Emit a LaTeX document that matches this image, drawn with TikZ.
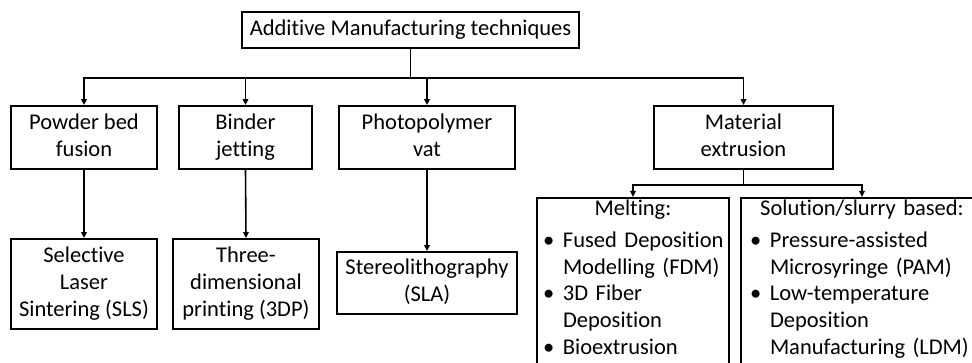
\documentclass[tikz,border=0pt]{standalone}
\usepackage{fontspec}
\setmainfont{Carlito}[Ligatures=NoCommon]
\usepackage{tikz}
\usetikzlibrary{arrows.meta, positioning}

\newcommand{\bitem}[1]{\makebox[20pt][l]{\textbullet}\mbox{#1}}
\newcommand{\bcont}[1]{\hspace*{20pt}\mbox{#1}}

\begin{document}
\begin{tikzpicture}[x=1pt, y=-1pt,
  box/.style={draw, rectangle, line width=1.8pt, align=center, inner sep=0pt,
    text depth=5.5pt, font=\fontsize{22.5}{27}\selectfont},
  listbox/.style={draw, rectangle, line width=1.8pt, align=left, anchor=north,
    inner ysep=2pt, text depth=150pt, font=\fontsize{22.5}{26.8}\selectfont},
  arr/.style={line width=1.6pt, -{Triangle[length=6pt, width=5.5pt]}}]
\useasboundingbox (0,0) rectangle (972,363);

\node (amt) [box, minimum width=337, minimum height=36] at (410.5,30) {Additive Manufacturing techniques};

\node (pbf) [box, minimum width=146, minimum height=63] at (84,137.5) {Powder bed\\fusion};
\node (bj) [box, minimum width=133, minimum height=63] at (245.5,137.5) {Binder\\jetting};
\node (pv) [box, minimum width=176, minimum height=63] at (427,137.5) {Photopolymer\\vat};
\node (me) [box, minimum width=179, minimum height=63] at (743.5,137.5) {Material\\extrusion};

\node (sls) [box, minimum width=146, minimum height=90] at (84,284) {Selective\\Laser\\Sintering (SLS)};
\node (tdp) [box, minimum width=146, minimum height=90] at (246,284) {Three-\\dimensional\\printing (3DP)};
\node (sla) [box, minimum width=180, minimum height=62] at (427,283) {Stereolithography\\(SLA)};

\node (melt) [listbox, text width=180pt, inner xsep=6pt] at (633,197)
  {\makebox[\linewidth][c]{Melting:}\\[5pt]
   \bitem{Fused Deposition}\\
   \bcont{Modelling (FDM)}\\
   \bitem{3D Fiber}\\
   \bcont{Deposition}\\
   \bitem{Bioextrusion}};
\node (sol) [listbox, text width=224pt, inner xsep=9pt] at (862,197)
  {\makebox[\linewidth][c]{Solution/slurry based:}\\[5pt]
   \bitem{Pressure-assisted}\\
   \bcont{Microsyringe (PAM)}\\
   \bitem{Low-temperature}\\
   \bcont{Deposition}\\
   \bcont{Manufacturing (LDM)}};

% tree from the top box
\coordinate (split) at ([yshift=-29pt]amt.south);
\draw[arr] (amt.south) -- (split) -| (pbf.north);
\draw[arr] (amt.south) -- (split) -| (bj.north);
\draw[arr] (amt.south) -- (split) -| (pv.north);
\draw[arr] (amt.south) -- (split) -| (me.north);

\draw[arr] (pbf.south) -- (sls.north);
\draw[arr] (bj.south) -- (tdp.north);
\draw[arr] (pv.south) -- (sla.north);

% extrusion split
\coordinate (split2) at ([yshift=-15pt]me.south);
\draw[arr] (me.south) -- (split2) -| (melt.north);
\draw[arr] (me.south) -- (split2) -| (sol.north);
\end{tikzpicture}
\end{document}
